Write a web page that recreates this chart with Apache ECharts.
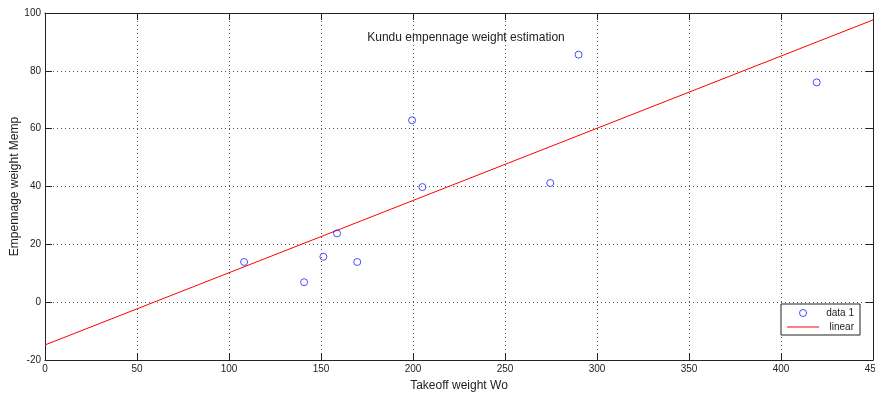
<!DOCTYPE html>
<html>
<head>
<meta charset="utf-8">
<script src="https://cdn.jsdelivr.net/npm/echarts@6/dist/echarts.min.js"></script>
<style>
  html, body { margin: 0; padding: 0; background: #fff; }
  #chart { width: 875px; height: 394px; }
</style>
</head>
<body>
<div id="chart"></div>
<script>
// Takeoff weight Wo of each aircraft
const takeoffWeight = [108.2, 140.8, 151.3, 158.7, 169.7, 199.5, 205.1, 274.6, 290.0, 419.4];
// Empennage weight Memp of each aircraft
const empennageWeight = [13.9, 6.9, 15.7, 23.8, 13.9, 62.9, 39.8, 41.2, 85.6, 76.0];
// Linear fit evaluated at the two ends of the x range
const fitX = [0, 450];
const fitY = [-14.8, 97.6];

const FONT = 'Liberation Sans, Arial, sans-serif';
const gridLine = { show: true, lineStyle: { color: '#555', type: [1, 3], width: 1 } };
const boxLine = { show: true, onZero: false, lineStyle: { color: '#222', width: 1 } };
const tick = { show: true, inside: true, length: 7, lineStyle: { color: '#222' } };

const chart = echarts.init(document.getElementById('chart'));
chart.setOption({
  animation: false,
  backgroundColor: '#fff',
  title: {
    text: 'Kundu empennage weight estimation',
    left: 461, top: 27, textAlign: 'center',
    textStyle: { fontFamily: FONT, fontSize: 12, fontWeight: 'normal', color: '#222' }
  },
  legend: {
    orient: 'vertical',
    left: 781, top: 304,
    padding: [4, 6, 3, 6],
    itemGap: 4,
    itemWidth: 32, itemHeight: 7,
    symbolKeepAspect: true,
    borderColor: '#222', borderWidth: 1,
    backgroundColor: '#fff',
    formatter: name => '{t|' + name + '}',
    textStyle: {
      fontFamily: FONT, fontSize: 10, color: '#222',
      rich: { t: { width: 30, align: 'right', fontFamily: FONT, fontSize: 10, color: '#222' } }
    },
    data: [
      { name: 'data 1', itemStyle: { borderWidth: 1 } },
      { name: 'linear', icon: 'path://M0,0H32V1H0Z' }
    ]
  },
  grid: { left: 45, right: 2, top: 13, bottom: 34, outerBoundsMode: 'none', containLabel: false },
  xAxis: [{
    type: 'value', min: 0, max: 450, interval: 50,
    name: 'Takeoff weight Wo', nameLocation: 'middle', nameGap: 20, nameMoveOverlap: false,
    nameTextStyle: { fontFamily: FONT, fontSize: 12, color: '#222' },
    axisLine: boxLine,
    axisTick: tick,
    axisLabel: { fontFamily: FONT, fontSize: 10, color: '#222', margin: 4 },
    splitLine: gridLine
  }, {
    type: 'value', position: 'top', min: 0, max: 450, interval: 50,
    axisLine: boxLine,
    axisTick: tick,
    axisLabel: { show: false },
    splitLine: { show: false }
  }],
  yAxis: [{
    type: 'value', min: -20, max: 100, interval: 20,
    name: 'Empennage weight Memp', nameLocation: 'middle', nameGap: 24, nameMoveOverlap: false,
    nameTextStyle: { fontFamily: FONT, fontSize: 12, color: '#222' },
    axisLine: boxLine,
    axisTick: tick,
    axisLabel: { fontFamily: FONT, fontSize: 10, color: '#222', margin: 4 },
    splitLine: gridLine
  }, {
    type: 'value', position: 'right', min: -20, max: 100, interval: 20,
    axisLine: boxLine,
    axisTick: tick,
    axisLabel: { show: false },
    splitLine: { show: false }
  }],
  series: [{
    name: 'data 1',
    type: 'scatter',
    symbol: 'circle',
    symbolSize: 7,
    itemStyle: { color: 'rgba(255,255,255,0)', borderColor: '#2020ff', borderWidth: 1 },
    data: takeoffWeight.map((x, i) => [x, empennageWeight[i]]),
    z: 3
  }, {
    name: 'linear',
    type: 'line',
    showSymbol: false,
    symbol: 'none',
    lineStyle: { color: '#ff0000', width: 1 },
    itemStyle: { color: '#ff0000' },
    data: fitX.map((x, i) => [x, fitY[i]]),
    z: 2
  }]
});
</script>
</body>
</html>
